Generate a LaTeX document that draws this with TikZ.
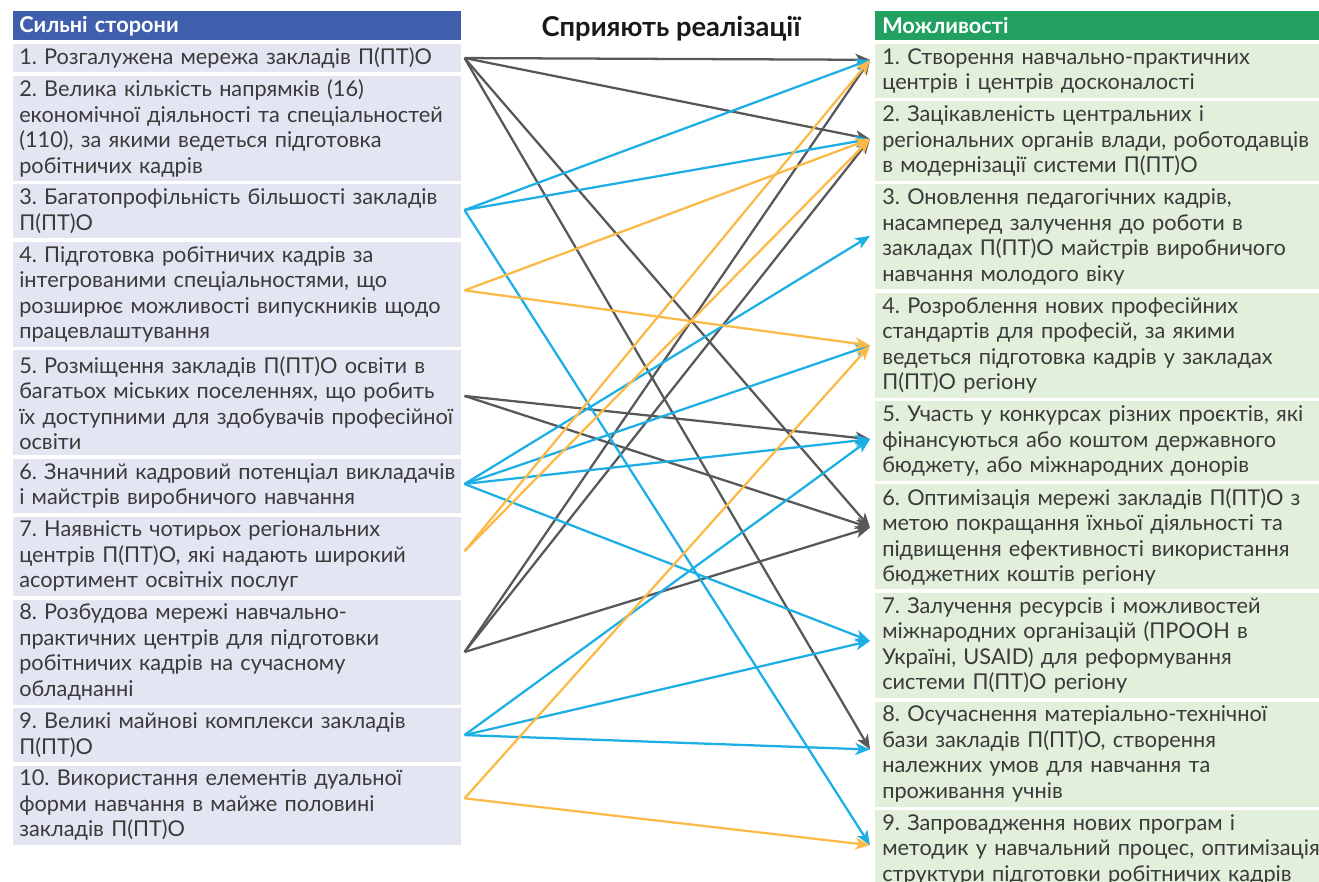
\documentclass[tikz,border=0pt]{standalone}
\usepackage{fontspec}
\setmainfont{Lato}
\usepackage{xcolor}
\usetikzlibrary{positioning}
\usetikzlibrary{arrows.meta}
\frenchspacing

\definecolor{headblue}{HTML}{3F5FAC}
\definecolor{headgreen}{HTML}{22A062}
\definecolor{leftfill}{HTML}{E3E5F2}
\definecolor{rightfill}{HTML}{E2EFDA}
\definecolor{txtgray}{HTML}{3A3A3A}
\definecolor{arrgray}{HTML}{58585A}
\definecolor{arrblue}{HTML}{1DAEE4}
\definecolor{arrorange}{HTML}{FBB948}

\begin{document}
\begin{tikzpicture}[x=0.75pt,y=-0.75pt,node distance=2.25pt,
      every node/.style={inner sep=0pt, font=\fontsize{16.3}{19.125}\selectfont},
      lbox/.style={fill=leftfill, text=txtgray, text width=327pt, inner xsep=4.5pt, align=left,
        minimum height=2.25pt+#1*19.125pt},
      rbox/.style={fill=rightfill, text=txtgray, text width=329pt, inner xsep=5.25pt, align=left,
        minimum height=2.25pt+#1*19.125pt},
      lhead/.style={fill=headblue, text=white, text width=327pt, inner xsep=4.5pt, align=left,
        minimum height=21.75pt, font=\fontsize{16.3}{19.125}\selectfont\bfseries},
      rhead/.style={fill=headgreen, text=white, text width=329pt, inner xsep=5.25pt, align=left,
        minimum height=21.75pt, font=\fontsize{16.3}{19.125}\selectfont\bfseries},
      ln/.style={-{Stealth[length=11pt,width=9pt,inset=3pt]}, line width=1.7pt},
      gr/.style={ln, color=arrgray},
      bl/.style={ln, color=arrblue},
      og/.style={ln, color=arrorange}]

      \clip (0,0) rectangle (1319,881);

      % strengths
      \node[lhead, anchor=north west] (lh) at (13,11) {Сильні сторони};
      \node[lbox=1] (l1) [below=of lh] {1. Розгалужена мережа закладів П(ПТ)О};
      \node[lbox=4] (l2) [below=of l1] {2. Велика кількість напрямків (16)\\економічної діяльності та спеціальностей\\(110), за якими ведеться підготовка\\робітничих кадрів};
      \node[lbox=2] (l3) [below=of l2] {3. Багатопрофільність більшості закладів\\П(ПТ)О};
      \node[lbox=4] (l4) [below=of l3] {4. Підготовка робітничих кадрів за\\інтегрованими спеціальностями, що\\розширює можливості випускників щодо\\працевлаштування};
      \node[lbox=4] (l5) [below=of l4] {5. Розміщення закладів П(ПТ)О освіти в\\багатьох міських поселеннях, що робить\\їх доступними для здобувачів професійної\\освіти};
      \node[lbox=2] (l6) [below=of l5] {6. Значний кадровий потенціал викладачів\\і майстрів виробничого навчання};
      \node[lbox=3] (l7) [below=of l6] {7. Наявність чотирьох регіональних\\центрів П(ПТ)О, які надають широкий\\асортимент освітніх послуг};
      \node[lbox=4] (l8) [below=of l7] {8. Розбудова мережі навчально-\\практичних центрів для підготовки\\робітничих кадрів на сучасному\\обладнанні};
      \node[lbox=2] (l9) [below=of l8] {9. Великі майнові комплекси закладів\\П(ПТ)О};
      \node[lbox=3] (l10) [below=of l9] {10. Використання елементів дуальної\\форми навчання в майже половині\\закладів П(ПТ)О};

      \node[anchor=base, text=black!90, font=\fontsize{20.5}{24}\selectfont\bfseries] (title) at (671,37) {Сприяють реалізації};

      % opportunities
      \node[rhead, anchor=north west] (rh) at (875,11) {Можливості};
      \node[rbox=2] (r1) [below=of rh] {1. Створення навчально-практичних\\центрів і центрів досконалості};
      \node[rbox=3] (r2) [below=of r1] {2. Зацікавленість центральних і\\регіональних органів влади, роботодавців\\в модернізації системи П(ПТ)О};
      \node[rbox=4] (r3) [below=of r2] {3. Оновлення педагогічних кадрів,\\насамперед залучення до роботи в\\закладах П(ПТ)О майстрів виробничого\\навчання молодого віку};
      \node[rbox=4] (r4) [below=of r3] {4. Розроблення нових професійних\\стандартів для професій, за якими\\ведеться підготовка кадрів у закладах\\П(ПТ)О регіону};
      \node[rbox=3] (r5) [below=of r4] {5. Участь у конкурсах різних проєктів, які\\фінансуються або коштом державного\\бюджету, або міжнародних донорів};
      \node[rbox=4] (r6) [below=of r5] {6. Оптимізація мережі закладів П(ПТ)О з\\метою покращання їхньої діяльності та\\підвищення ефективності використання\\бюджетних коштів регіону};
      \node[rbox=4] (r7) [below=of r6] {7. Залучення ресурсів і можливостей\\міжнародних організацій (ПРООН в\\Україні, USAID) для реформування\\системи П(ПТ)О регіону};
      \node[rbox=4] (r8) [below=of r7] {8. Осучаснення матеріально-технічної\\бази закладів П(ПТ)О, створення\\належних умов для навчання та\\проживання учнів};
      \node[rbox=3] (r9) [below=of r8] {9. Запровадження нових програм і\\методик у навчальний процес, оптимізація\\структури підготовки робітничих кадрів};

      % arrow ends
      \coordinate (a1) at ([xshift=2.25pt]l1.east);
      \coordinate (a3) at ([xshift=2.25pt,yshift=1pt]l3.east);
      \coordinate (a4) at ([xshift=2.25pt,yshift=3pt]l4.east);
      \coordinate (a5) at ([xshift=2.25pt,yshift=5.25pt]l5.east);
      \coordinate (a6) at ([xshift=2.25pt,yshift=1.5pt]l6.east);
      \coordinate (a7) at ([xshift=2.25pt,yshift=3.75pt]l7.east);
      \coordinate (a8) at ([xshift=2.25pt]l8.east);
      \coordinate (a9) at ([xshift=2.25pt]l9.east);
      \coordinate (a10) at ([xshift=2.25pt,yshift=5.25pt]l10.east);

      \coordinate (b1) at ([xshift=-3.75pt,yshift=8.25pt]r1.west);
      \coordinate (b2) at ([xshift=-3.75pt,yshift=1.5pt]r2.west);
      \coordinate (b3) at ([xshift=-3.75pt,yshift=0.75pt]r3.west);
      \coordinate (b4) at ([xshift=-3.75pt]r4.west);
      \coordinate (b5) at ([xshift=-3.75pt,yshift=1.5pt]r5.west);
      \coordinate (b6) at ([xshift=-3.75pt,yshift=7pt]r6.west);
      \coordinate (b7) at ([xshift=-3.75pt,yshift=3.4pt]r7.west);
      \coordinate (b8) at ([xshift=-3.75pt,yshift=3.4pt]r8.west);
      \coordinate (b9) at ([xshift=-3.75pt,yshift=3.5pt]r9.west);

      \path[gr]
        (a1) edge (b1)
        (a1) edge (b2)
        (a1) edge (b6)
        (a1) edge (b8)
        (a5) edge (b5)
        (a5) edge (b6)
        (a8) edge (b1)
        (a8) edge (b2)
        (a8) edge (b6)
        ;

      \path[bl]
        (a3) edge (b1)
        (a3) edge (b2)
        (a3) edge (b9)
        (a6) edge (b3)
        (a6) edge (b4)
        (a6) edge (b5)
        (a6) edge (b7)
        (a9) edge (b5)
        (a9) edge (b7)
        (a9) edge (b8)
        ;

      \path[og]
        (a4) edge (b2)
        (a4) edge (b4)
        (a7) edge (b1)
        (a7) edge (b2)
        (a10) edge (b4)
        (a10) edge (b9)
        ;

    \end{tikzpicture}
\end{document}
